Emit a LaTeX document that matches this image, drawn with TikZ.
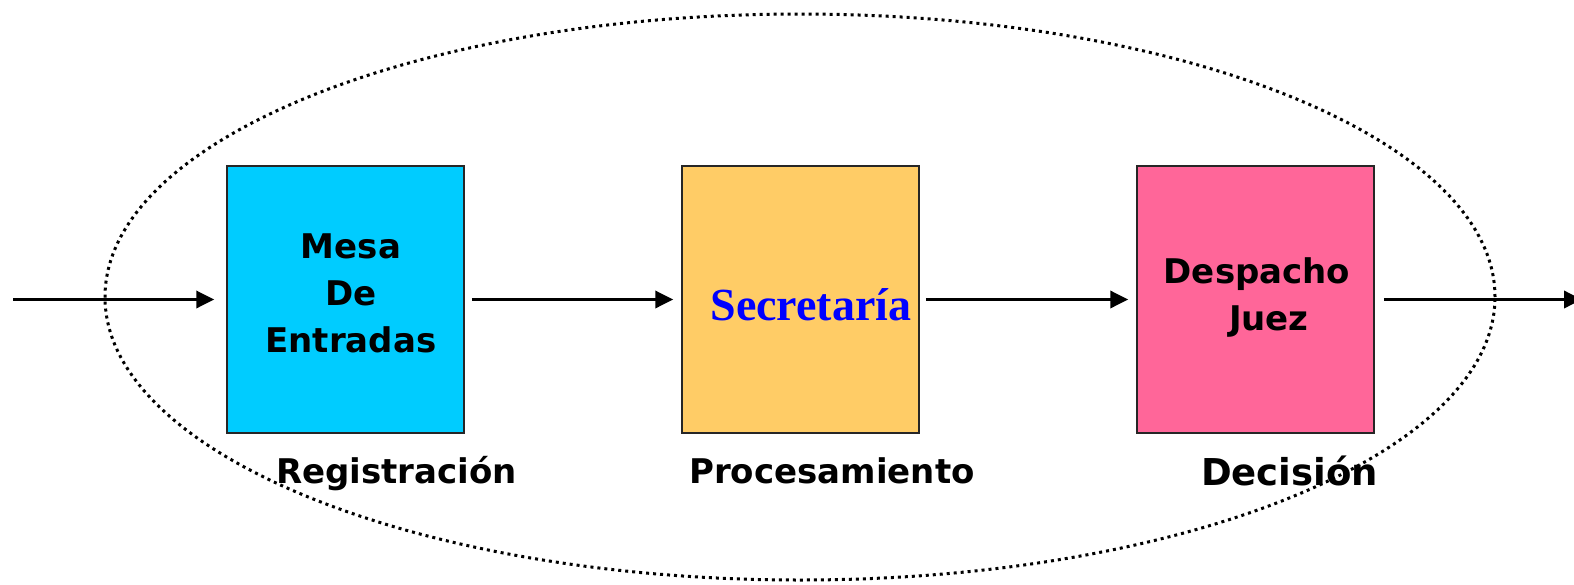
\documentclass[tikz,border=0pt]{standalone}
\usepackage{fontspec}
\setmainfont{DejaVu Sans}
\newfontfamily\timesfont{Liberation Serif}
\usetikzlibrary{arrows.meta}
\definecolor{mesacolor}{HTML}{00CCFF}
\definecolor{secrecolor}{HTML}{FFCC66}
\definecolor{juezcolor}{HTML}{FF6699}
\tikzstyle{etapa}=[draw=black!85,line width=1.5pt,minimum width=237pt,minimum height=267pt,inner sep=0pt]
\tikzstyle{rotulo}=[font=\bfseries\fontsize{34}{47}\selectfont,align=center,inner sep=0pt]
\tikzstyle{flecha}=[line width=3.5pt,-{Triangle[length=18pt,width=17pt]}]

\begin{document}
\begin{tikzpicture}[x=1pt,y=-1pt]
\useasboundingbox (0,0) rectangle (1574,584);
\draw[line width=3pt,dash pattern=on 3pt off 4pt,black] (800,297) ellipse [x radius=695pt,y radius=283pt];
  \node[etapa,fill=mesacolor] (m1) at (345.5,299.5) {};
  \node[etapa,fill=secrecolor] (m2) at (800.5,299.5) {};
  \node[etapa,fill=juezcolor] (m3) at (1255.5,299.5) {};
  \node[rotulo] (t1) at (351,293) {Mesa\\De\\Entradas};
  \node[font=\timesfont\bfseries\fontsize{46}{50}\selectfont,text=blue,inner sep=0pt,anchor=base] (t2) at (811,320) {Secretaría};
  \node[rotulo] (t3) at (1257,297) {Despacho\\\hspace*{0.7em}Juez};
  \node[rotulo,anchor=base] (r1) at (396.5,483) {Registración};
  \node[rotulo,anchor=base] (r2) at (832,483) {Procesamiento};
  \node[rotulo,anchor=base,font=\bfseries\fontsize{37}{44}\selectfont] (r3) at (1289.5,485) {Decisión};
\coordinate (ent) at (13,299.5);
\coordinate (sal) at (1582,299.5);
\draw[flecha,shorten >=12pt] (ent) -- (m1);
\draw[flecha,shorten <=7pt,shorten >=8pt] (m1) -- (m2);
\draw[flecha,shorten <=6pt,shorten >=8pt] (m2) -- (m3);
\draw[flecha,shorten <=9pt] (m3) -- (sal);
\end{tikzpicture}
\end{document}
